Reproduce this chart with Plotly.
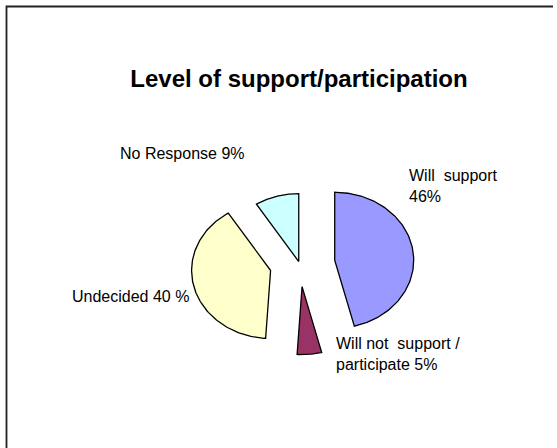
import numpy as np
import plotly.graph_objects as go

# Survey result: level of support / participation (percent of respondents)
categories = ["Will support", "Will not support / participate", "Undecided", "No Response"]
shares = [46, 5, 40, 9]
label_texts = [
    "Will\u00a0 support<br>46%",
    "Will not\u00a0 support /<br>participate 5%",
    "Undecided 40 %",
    "No Response 9%",
]

# Styling
colors = ["#9999FF", "#993366", "#FFFFCC", "#CCFFFF"]
pulls = [0.448, 0.332, 0.379, 0.038]          # explode distance, fraction of radius
label_px = [(406.5, 186.4), (333.6, 353.9), (70, 296), (118, 153)]  # label anchor (px)

W, H = 557, 448
CX, CY = 299.6, 264.1      # pie centre in px
RX, RY = 79.0, 68.0        # pie radii in px (slightly flattened pie)


def px_to_data(px, py):
    return (px - CX) / RX, (CY - py) / RY


fig = go.Figure()

total = float(sum(shares))
start = 0.0
for name, val, col, pull in zip(categories, shares, colors, pulls):
    span = val / total * 2 * np.pi
    theta = np.linspace(start, start + span, 120)
    mid = start + span / 2
    ox, oy = pull * np.sin(mid), pull * np.cos(mid)
    xs = np.concatenate([[0.0], np.sin(theta), [0.0]]) + ox
    ys = np.concatenate([[0.0], np.cos(theta), [0.0]]) + oy
    fig.add_trace(go.Scatter(
        x=xs, y=ys, mode="lines", fill="toself", fillcolor=col,
        line=dict(color="black", width=1.3), name=name,
        hoverinfo="name", showlegend=False,
    ))
    start += span

# chart frame: top and left edges
corner = [px_to_data(6.5, H + 20), px_to_data(6.5, 6.5), px_to_data(W - 4, 6.5)]
fig.add_trace(go.Scatter(
    x=[p[0] for p in corner], y=[p[1] for p in corner], mode="lines",
    line=dict(color="#222222", width=1.8), hoverinfo="skip", showlegend=False,
))

for txt, (px, py) in zip(label_texts, label_px):
    fig.add_annotation(
        text=txt, xref="paper", yref="paper",
        x=px / W, y=1 - py / H, xanchor="left", yanchor="middle",
        align="left", showarrow=False,
        font=dict(family="Arial, Liberation Sans, sans-serif", size=16, color="black"),
    )

fig.update_layout(
    width=W, height=H,
    margin=dict(l=0, r=0, t=0, b=0),
    paper_bgcolor="white", plot_bgcolor="white",
    title=dict(text="<b>Level of support/participation</b>",
               x=299 / W, xanchor="center", xref="container",
               y=1 - 79 / H, yanchor="middle", yref="container",
               font=dict(family="Arial, Liberation Sans, sans-serif", size=24, color="black")),
    xaxis=dict(range=[-CX / RX, (W - CX) / RX], visible=False, fixedrange=True),
    yaxis=dict(range=[-(H - CY) / RY, CY / RY], visible=False, fixedrange=True),
    showlegend=False,
)

fig.write_html("out.html")
